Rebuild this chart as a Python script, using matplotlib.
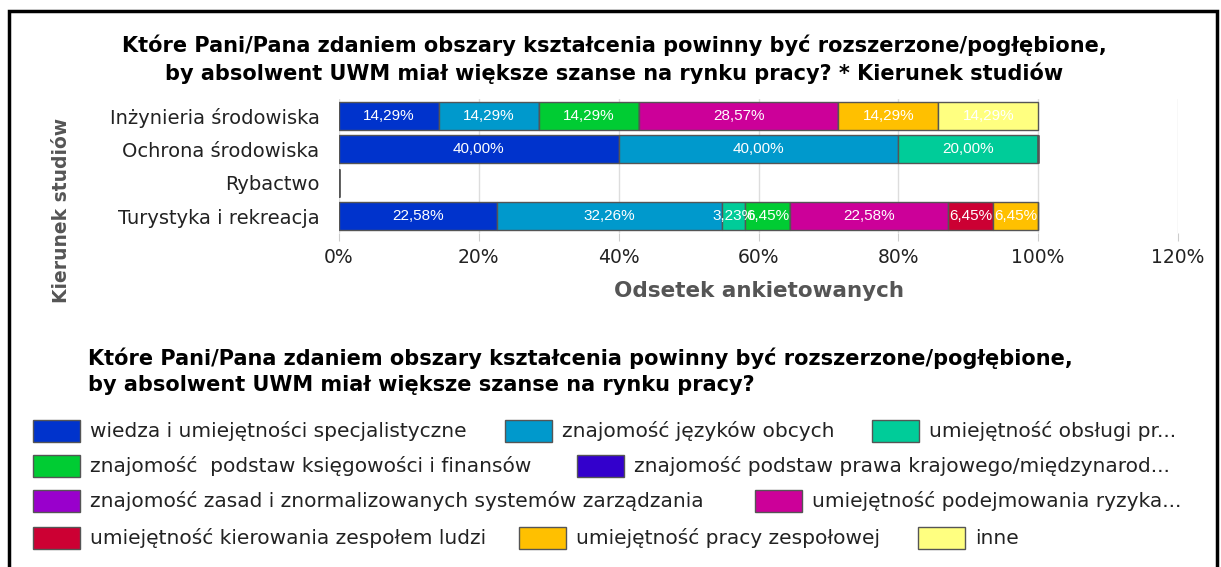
import numpy as np
import matplotlib.pyplot as plt
from matplotlib.patches import Rectangle

kierunki = ['Inżynieria środowiska', 'Ochrona środowiska', 'Rybactwo', 'Turystyka i rekreacja']
obszary = [
    'wiedza i umiejętności specjalistyczne',
    'znajomość języków obcych',
    'umiejętność obsługi pr...',
    'znajomość  podstaw księgowości i finansów',
    'znajomość podstaw prawa krajowego/międzynarod...',
    'znajomość zasad i znormalizowanych systemów zarządzania',
    'umiejętność podejmowania ryzyka...',
    'umiejętność kierowania zespołem ludzi',
    'umiejętność pracy zespołowej',
    'inne',
]
kolory = ['#0033CC', '#0099CC', '#00CC99', '#00CC33', '#3300CC',
          '#9900CC', '#CC0099', '#CC0033', '#FFC000', '#FFFF80']

# odsetki dla kazdego kierunku (wiersze) i obszaru (kolumny)
inzynieria = [14.29, 14.29, 0, 14.29, 0, 0, 28.57, 0, 14.29, 14.29]
ochrona = [40.00, 40.00, 20.00, 0, 0, 0, 0, 0, 0, 0]
rybactwo = [0, 0, 0, 0, 0, 0, 0, 0, 0, 0]
turystyka = [22.58, 32.26, 3.23, 6.45, 0, 0, 22.58, 6.45, 6.45, 0]

dane = np.array([inzynieria, ochrona, rybactwo, turystyka])

W, H = 1221, 567
fig = plt.figure(figsize=(W / 100, H / 100), dpi=100)
fig.patch.set_facecolor('white')

# ramka wokol calego wykresu
fig.add_artist(Rectangle((9 / W, -0.05), (1217 - 9) / W, 1.05 - 11 / H,
                         transform=fig.transFigure, fill=False,
                         edgecolor='black', linewidth=2.5))

ax = fig.add_axes([339 / W, 1 - 233 / H, (1178 - 339) / W, 134 / H])
y = np.arange(len(kierunki))
lewo = np.zeros(len(kierunki))
for j in range(len(obszary)):
    wart = dane[:, j]
    ax.barh(y, wart, left=lewo, height=0.84, color=kolory[j],
            edgecolor='#555555', linewidth=1, zorder=3)
    for i in range(len(kierunki)):
        if wart[i] > 0:
            ax.text(lewo[i] + wart[i] / 2, y[i], f'{wart[i]:.2f}%'.replace('.', ','),
                    ha='center', va='center', color='white', fontsize=11,
                    family='Liberation Sans', zorder=4)
    lewo += wart

ax.set_xlim(0, 120)
ax.set_ylim(len(kierunki) - 0.5, -0.5)
ax.set_xticks(np.arange(0, 121, 20))
ax.set_xticklabels([f'{v}%' for v in range(0, 121, 20)], fontsize=13.5, color='#222222')
ax.set_yticks(y)
ax.set_yticklabels(kierunki, fontsize=14, color='#222222')
ax.tick_params(axis='y', length=0, pad=14)
ax.tick_params(axis='x', length=6, color='#cccccc', pad=5)
ax.grid(axis='x', color='#dddddd', linewidth=1, zorder=0)
for s in ax.spines.values():
    s.set_visible(False)
ax.set_xlabel('Odsetek ankietowanych', fontsize=15.5, fontweight='bold',
              color='#555555', labelpad=10)

fig.text(62 / W, 1 - 210 / H, 'Kierunek studiów', rotation=90, ha='center',
         va='center', fontsize=13.5, fontweight='bold', color='#555555')

tytul = ('Które Pani/Pana zdaniem obszary kształcenia powinny być rozszerzone/pogłębione,\n'
         'by absolwent UWM miał większe szanse na rynku pracy? * Kierunek studiów')
fig.text(614 / W, 1 - 59 / H, tytul, ha='center', va='center', fontsize=15,
         fontweight='bold', family='DejaVu Sans', linespacing=1.35)

tytul_leg = ('Które Pani/Pana zdaniem obszary kształcenia powinny być rozszerzone/pogłębione,\n'
             'by absolwent UWM miał większe szanse na rynku pracy?')
fig.text(88 / W, 1 - 371 / H, tytul_leg, ha='left', va='center', fontsize=15,
         fontweight='bold', family='DejaVu Sans', linespacing=1.35)

# legenda w wierszach jak w oryginale
wiersze = [[0, 1, 2], [3, 4], [5, 6], [7, 8, 9]]
wiersz_y = [431, 466, 501, 538]
pozycje_x = [[33, 505, 872], [33, 577], [33, 755], [33, 519, 918]]
for r, idx in enumerate(wiersze):
    for k, j in enumerate(idx):
        px = pozycje_x[r][k]
        py = wiersz_y[r]
        fig.add_artist(Rectangle((px / W, 1 - (py + 11) / H), 47 / W, 22 / H,
                                 transform=fig.transFigure, facecolor=kolory[j],
                                 edgecolor='#555555', linewidth=1))
        fig.text((px + 57) / W, 1 - py / H, obszary[j], ha='left', va='center',
                 fontsize=14.5, color='#222222')

fig.savefig('out.png', dpi=100)
